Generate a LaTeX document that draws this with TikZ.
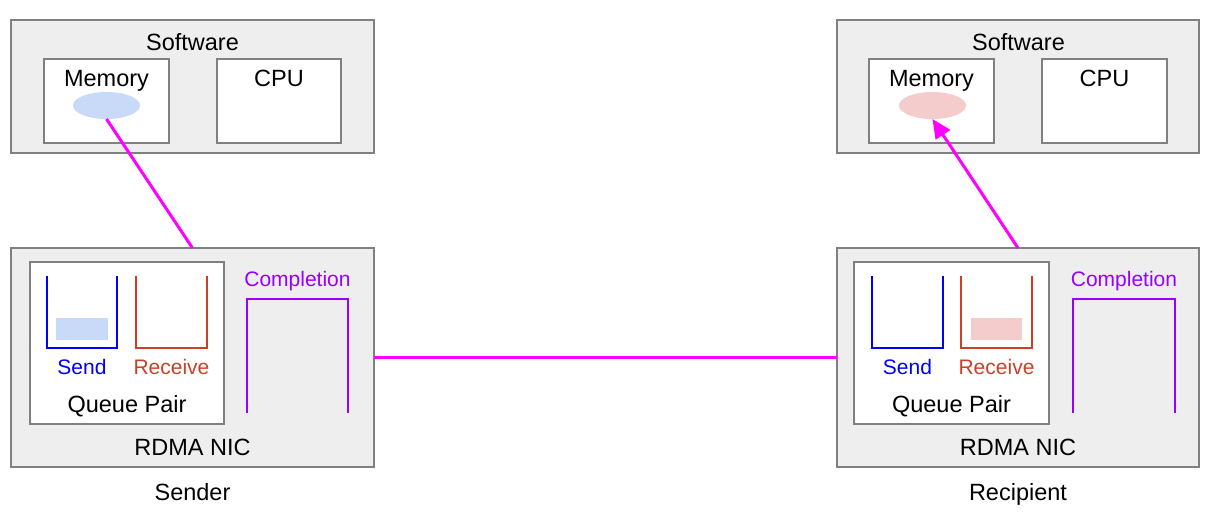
\documentclass[tikz,border=0pt]{standalone}
\usepackage{fontspec}
\setmainfont{Liberation Sans}
\usetikzlibrary{arrows.meta,shapes.geometric}
\definecolor{panelfill}{HTML}{EEEEEE}
\definecolor{panelline}{HTML}{808080}
\definecolor{sendblue}{HTML}{0000FF}
\definecolor{recvred}{HTML}{CC4125}
\definecolor{complpurple}{HTML}{9900FF}
\definecolor{linkmagenta}{HTML}{FF00FF}
\definecolor{lightblue}{HTML}{C9DAF8}
\definecolor{lightpink}{HTML}{F4CCCC}
\tikzset{
  panel/.style={draw=panelline, fill=panelfill, line width=1.2pt, inner sep=0pt, outer sep=0pt, anchor=north west},
  innerbox/.style={draw=panelline, fill=white, line width=1.2pt, inner sep=0pt, outer sep=0pt, anchor=north west},
  bigtext/.style={font=\fontsize{23.5}{27}\selectfont, anchor=base, inner sep=0pt},
  smalltext/.style={font=\fontsize{21}{25}\selectfont, anchor=base, inner sep=0pt},
  bucket/.style={line width=2.5pt},
  link/.style={draw=linkmagenta, line width=3pt},
  buffer/.style={inner sep=0pt, outer sep=0pt, draw=none}
}
\begin{document}
\begin{tikzpicture}[x=1pt, y=-1pt]
\useasboundingbox (0,0) rectangle (1211,515);

% ---------- sender ----------
\node[panel, minimum width=363pt, minimum height=133pt] (swL) at (11,20) {};
\node[bigtext] (swLt) at (192.5,50) {Software};
\node[innerbox, minimum width=125pt, minimum height=84pt] (memboxL) at (44,59) {};
\node[bigtext] (memLt) at (106.5,86) {Memory};
\node[innerbox, minimum width=124pt, minimum height=84pt] (cpuL) at (217,59) {};
\node[bigtext] (cpuLt) at (279,86) {CPU};
\node[buffer, ellipse, fill=lightblue, minimum width=67pt, minimum height=27pt] (ellL) at (106.5,105.5) {};

\node[panel, minimum width=363pt, minimum height=219pt] (nicL) at (11,248) {};
\node[innerbox, minimum width=194pt, minimum height=162pt] (qpL) at (30,262) {};
\node[buffer, fill=lightblue, minimum width=52pt, minimum height=22pt] (bufL) at (82,329) {};
\draw[bucket, sendblue] (47,276) -- (47,348) -- (117,348) -- (117,276);
\draw[bucket, recvred] (136,276) -- (136,348) -- (207,348) -- (207,276);
\node[smalltext, text=sendblue] (sendL) at (82,374) {Send};
\node[smalltext, text=recvred] (recvL) at (171.5,374) {Receive};
\node[bigtext] (qpLt) at (127,412) {Queue Pair};
\node[smalltext, text=complpurple] (cqLt) at (297.5,286) {Completion};
\draw[bucket, complpurple] (247,413) -- (247,299) -- (348,299) -- (348,413);
\node[bigtext] (nicLt) at (192.5,455) {RDMA NIC};
\node[bigtext] (senderLt) at (192.5,500) {Sender};

% ---------- recipient ----------
\begin{scope}[xshift=826pt]
\node[panel, minimum width=362pt, minimum height=133pt] (swR) at (11,20) {};
\node[bigtext] (swRt) at (192.5,50) {Software};
\node[innerbox, minimum width=125pt, minimum height=84pt] (memboxR) at (43,59) {};
\node[bigtext] (memRt) at (105.5,86) {Memory};
\node[innerbox, minimum width=125pt, minimum height=84pt] (cpuR) at (216,59) {};
\node[bigtext] (cpuRt) at (278.5,86) {CPU};
\node[buffer, ellipse, fill=lightpink, minimum width=67pt, minimum height=27pt] (ellR) at (106.5,105.5) {};

\node[panel, minimum width=362pt, minimum height=219pt] (nicR) at (11,248) {};
\node[innerbox, minimum width=195pt, minimum height=162pt] (qpR) at (28,262) {};
\node[buffer, fill=lightpink, minimum width=51pt, minimum height=22pt] (bufR) at (170.5,329) {};
\draw[bucket, sendblue] (46,276) -- (46,348) -- (117,348) -- (117,276);
\draw[bucket, recvred] (135,276) -- (135,348) -- (206,348) -- (206,276);
\node[smalltext, text=sendblue] (sendR) at (81.5,374) {Send};
\node[smalltext, text=recvred] (recvR) at (170.5,374) {Receive};
\node[bigtext] (qpRt) at (125.5,412) {Queue Pair};
\node[smalltext, text=complpurple] (cqRt) at (298,286) {Completion};
\draw[bucket, complpurple] (247,413) -- (247,299) -- (349,299) -- (349,413);
\node[bigtext] (nicRt) at (192,455) {RDMA NIC};
\node[bigtext] (recipRt) at (192,500) {Recipient};
\end{scope}

% ---------- data path ----------
\draw[link] (ellL.south) -- (nicL.north);
\draw[link] (nicL.east) -- (nicR.west);
\draw[link, -{Triangle[length=19pt, width=17pt]}] (nicR.north) -- (ellR.south);
\end{tikzpicture}
\end{document}
